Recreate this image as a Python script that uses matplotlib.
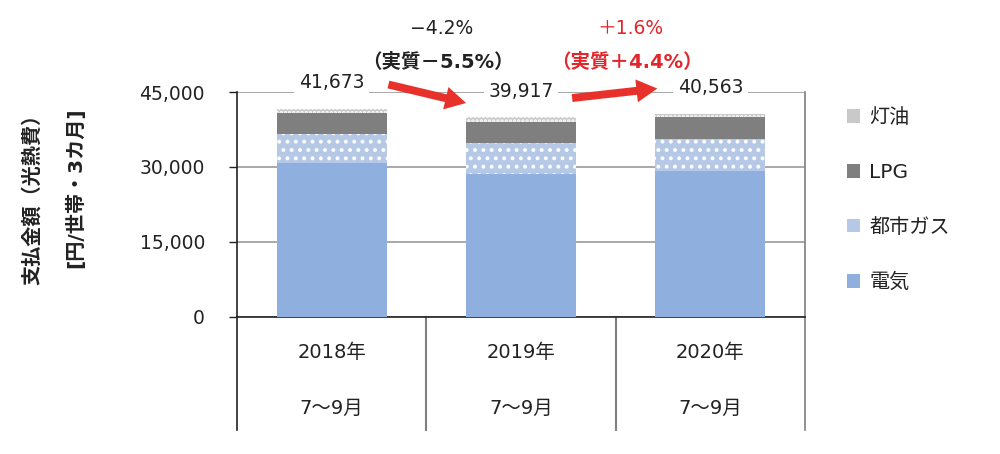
import numpy as np
import matplotlib
matplotlib.use("Agg")
from matplotlib import pyplot as plt
from matplotlib.patches import Patch

plt.rcParams['font.family'] = ['DejaVu Sans', 'Noto Sans CJK JP']
plt.rcParams['hatch.linewidth'] = 1.6

# data
years = ['2018年', '2019年', '2020年']
period = ['7～9月', '7～9月', '7～9月']
denki = [30700, 28500, 29200]
toshi_gas = [5850, 6350, 6300]
lpg = [4150, 4050, 4400]
touyu = [973, 1017, 663]
totals = [41673, 39917, 40563]
nominal_chg = ['−4.2%', '＋1.6%']
real_chg = ['（実質－5.5%）', '（実質＋4.4%）']
chg_colors = ['#222222', '#E3262B']

series = [
    ('電気', denki, dict(color='#8FB0DE')),
    ('都市ガス', toshi_gas, dict(color='#B5C8E6', edgecolor='white', hatch='..')),
    ('LPG', lpg, dict(color='#7F7F7F')),
    ('灯油', touyu, dict(color='#C9C9C9', edgecolor='white', hatch='....')),
]

fig = plt.figure(figsize=(10, 4.54), dpi=100)
ax = fig.add_axes([0.237, 0.3025, 0.568, 0.4948])

x = np.arange(len(years))
bottom = np.zeros(len(years))
handles = []
for name, vals, style in series:
    ax.bar(x, vals, width=0.58, bottom=bottom, linewidth=0, zorder=3, **style)
    bottom += np.array(vals)
    handles.append(Patch(label=name, linewidth=0, **style))

ax.set_xlim(-0.5, 2.5)
ax.set_ylim(0, 45000)
ax.set_yticks([0, 15000, 30000, 45000])
ax.set_yticklabels([f'{v:,}' for v in [0, 15000, 30000, 45000]], fontsize=13.5, color='#222222')
ax.tick_params(axis='y', length=6, width=1, color='#222222', pad=17)
ax.set_xticks([])
ax.yaxis.grid(True, color='#9a9a9a', linewidth=1.2, zorder=0)
ax.set_axisbelow(True)
for s in ['top', 'right']:
    ax.spines[s].set_visible(False)
ax.spines['left'].set_color('#222222')
ax.spines['bottom'].set_color('#222222')
ax.spines['left'].set_linewidth(1.2)
ax.spines['bottom'].set_linewidth(1.2)

# category area below the axis
trans = ax.get_xaxis_transform()
ax.plot([-0.5, -0.5], [0, -0.505], transform=trans, color='#222222', lw=1.2, clip_on=False)
for b in [0.5, 1.5]:
    ax.plot([b, b], [0, -0.505], transform=trans, color='#7f7f7f', lw=1.5, clip_on=False)
ax.plot([2.5, 2.5], [-0.505, 1.0], transform=trans, color='#7f7f7f', lw=1.2, clip_on=False)
for i in x:
    ax.text(i, -0.158, years[i], transform=trans, ha='center', va='center', fontsize=14, color='#222222')
    ax.text(i, -0.408, period[i], transform=trans, ha='center', va='center', fontsize=14, color='#222222')

# totals
for i in x:
    ax.annotate(f'{totals[i]:,}', (i, totals[i]), xytext=(0, 19), textcoords='offset points',
                ha='center', va='center', fontsize=13.5, color='#222222', zorder=5,
                bbox=dict(boxstyle='square,pad=0.25', fc='white', ec='none'), annotation_clip=False)

# change arrows
arrows = [((0.30, 46500), (0.71, 42800)), ((1.27, 43800), (1.72, 45700))]
for (p0, p1) in arrows:
    ax.annotate('', xy=p1, xytext=p0, annotation_clip=False, zorder=6,
                arrowprops=dict(arrowstyle='simple,head_length=1.0,head_width=1.1,tail_width=0.38',
                                mutation_scale=15, color='#E8312A', lw=0, shrinkA=0, shrinkB=0))

for k in range(2):
    cx = k + 0.58
    fig.text((237 + (cx + 0.5) * 189.3) / 1000, 1 - 28 / 454, nominal_chg[k], ha='center', va='center',
             fontsize=13.5, color=chg_colors[k])
    fig.text((237 + (cx + 0.5) * 189.3) / 1000 - 0.004, 1 - 62 / 454, real_chg[k], ha='center', va='center',
             fontsize=14, fontweight='bold', color=chg_colors[k])

# y label
fig.text(0.032, 1 - 194 / 454, '支払金額（光熱費）', rotation=90, ha='center', va='center',
         fontsize=14.5, fontweight='bold', color='#222222')
fig.text(0.075, 1 - 188 / 454, '[円/世帯・3カ月]', rotation=90, ha='center', va='center',
         fontsize=14.5, fontweight='bold', color='#222222')

leg = fig.legend(handles=handles[::-1], loc='upper left', bbox_to_anchor=(0.837, 1 - 98 / 454),
                 frameon=False, fontsize=14.5, handlelength=0.65, handleheight=0.65,
                 handletextpad=0.45, labelspacing=1.78, borderpad=0)
for t in leg.get_texts():
    t.set_color('#222222')

fig.savefig('out.png', dpi=100)
